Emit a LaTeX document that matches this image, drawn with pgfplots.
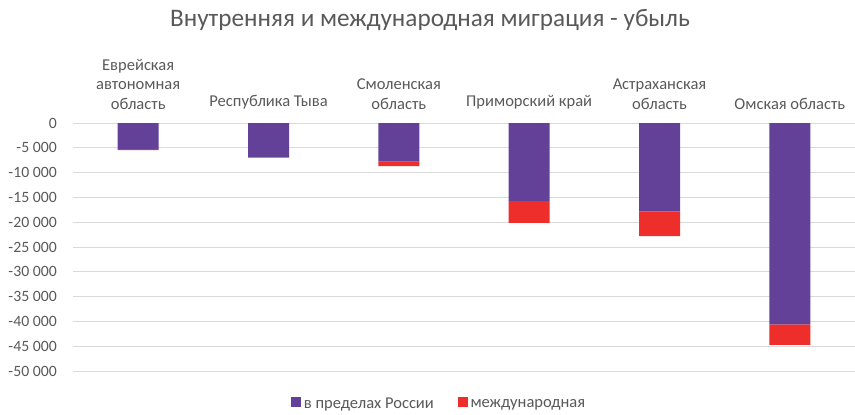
\documentclass[border=0pt]{standalone}
\usepackage{pgfplots}
\pgfplotsset{compat=1.18}
\usepackage{fontspec}
\setmainfont{Carlito}
\definecolor{barpurple}{RGB}{99,65,153}
\definecolor{barred}{RGB}{238,46,43}
\definecolor{txtgray}{RGB}{89,89,89}
\definecolor{gridgray}{RGB}{217,217,217}

\begin{document}
\begin{tikzpicture}
\begin{axis}[
    at={(0,0)}, anchor=south west,
    scale only axis,
    width=586.5pt, height=186pt,
    ybar stacked, bar width=30.75pt,
    xmin=-0.5, xmax=5.5,
    ymin=-50000, ymax=0,
    scaled y ticks=false,
    xtick={0,1,2,3,4,5},
    xticklabels={{Еврейская\\автономная\\область},{Республика Тыва},{Смоленская\\область},{Приморский край},{Астраханская\\область},{Омская область}},
    xticklabel pos=upper,
    xticklabel style={align=center, anchor=south, inner sep=0pt, yshift=10pt,
        font=\fontsize{12.4}{14.6}\selectfont, text=txtgray},
    ytick={0,-5000,-10000,-15000,-20000,-25000,-30000,-35000,-40000,-45000,-50000},
    yticklabels={0,-5 000,-10 000,-15 000,-20 000,-25 000,-30 000,-35 000,-40 000,-45 000,-50 000},
    yticklabel style={anchor=east, inner sep=0pt, xshift=-12pt,
        font=\fontsize{11.8}{13}\selectfont, text=txtgray},
    major tick length=0pt,
    axis line style={draw=none},
    ymajorgrids, grid style={gridgray, line width=0.75pt},
    title={Внутренняя и международная миграция - убыль},
    title style={at={(0.4565,1.383)}, anchor=center,
        font=\fontsize{18.9}{22}\selectfont, text=txtgray},
    legend columns=2,
    legend style={at={(0.4687,-0.135)}, anchor=center, draw=none,
        font=\fontsize{12.4}{14}\selectfont, text=txtgray,
        /tikz/every even column/.append style={column sep=16pt}},
    legend image code/.code={\fill[#1] (0pt,-2pt) rectangle (7.5pt,5.5pt);},
]
    % в пределах России
    \addplot[fill=barpurple, draw=none] coordinates {
        (0,-5200) (1,-6900) (2,-7800) (3,-15700) (4,-17800) (5,-40600)};
    % международная
    \addplot[fill=barred, draw=none] coordinates {
        (0,-250) (1,-100) (2,-900) (3,-4450) (4,-5000) (5,-4150)};
    \legend{в пределах России, международная}
\end{axis}
\pgfresetboundingbox
\path[use as bounding box] (-54.75pt,-32.25pt) rectangle (586.5pt,278.25pt);
\end{tikzpicture}
\end{document}
